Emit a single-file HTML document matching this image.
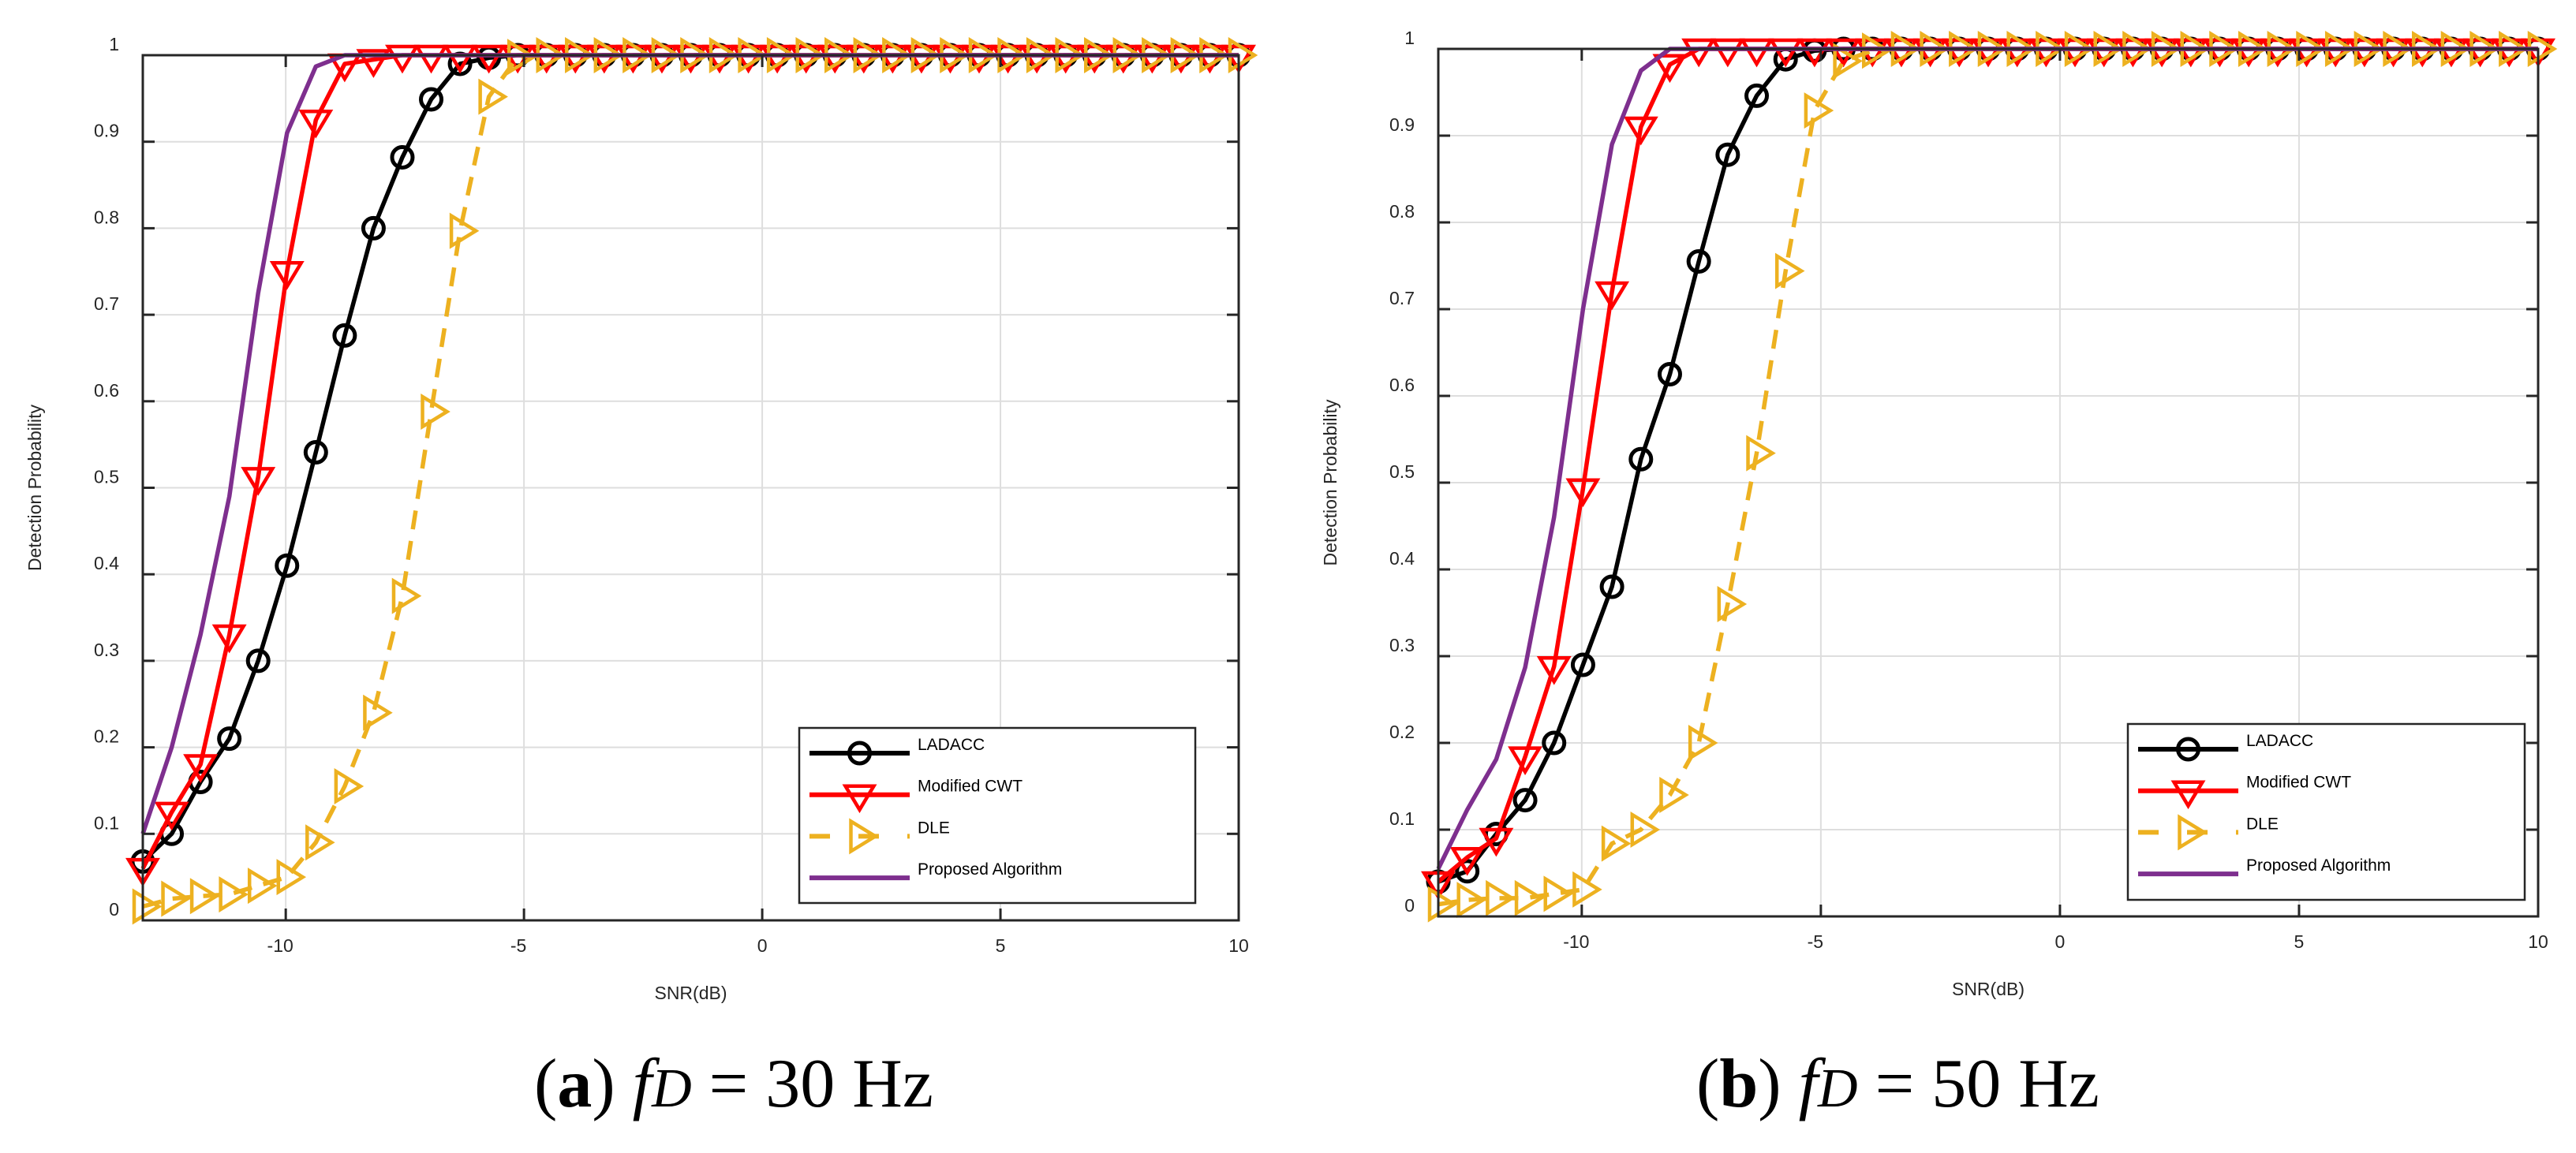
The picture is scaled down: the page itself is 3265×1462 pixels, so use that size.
<!DOCTYPE html>
<html><head><meta charset="utf-8">
<style>
html,body{margin:0;padding:0;background:#fff;}
svg{display:block;}
</style></head>
<body>
<svg id="fig" xmlns="http://www.w3.org/2000/svg" width="3265" height="1462" viewBox="0 0 3265 1462">
<rect x="0" y="0" width="3265" height="1462" fill="#fff"/>
<text x="677" y="1403" font-family="Liberation Serif, serif" font-size="88" fill="#000">(<tspan font-weight="bold">a</tspan>) <tspan font-style="italic">f</tspan><tspan font-style="italic" font-size="70">D</tspan> = 30 Hz</text>
<text x="2150" y="1403" font-family="Liberation Serif, serif" font-size="88" fill="#000">(<tspan font-weight="bold">b</tspan>) <tspan font-style="italic">f</tspan><tspan font-style="italic" font-size="70">D</tspan> = 50 Hz</text>
</svg>
<script>
// SNR axis: 39 points from -13 dB to 10 dB
const snrStart = -13;
const snrEnd = 10;
const snrCount = 39;
const xTicks = [-10, -5, 0, 5, 10];
const xTickLabels = ['-10', '-5', '0', '5', '10'];
const yTicks = [0, 0.1, 0.2, 0.3, 0.4, 0.5, 0.6, 0.7, 0.8, 0.9, 1];
const yTickLabels = ['0', '0.1', '0.2', '0.3', '0.4', '0.5', '0.6', '0.7', '0.8', '0.9', '1'];
const seriesNames = ['LADACC', 'Modified CWT', 'DLE', 'Proposed Algorithm'];

// Panel (a) fD = 30 Hz
const a_ladacc = [0.068,0.10,0.16,0.21,0.30,0.41,0.541,0.676,0.80,0.882,0.949,0.99,0.997,1,1,1,1,1,1,1,1,1,1,1,1,1,1,1,1,1,1,1,1,1,1,1,1,1,1];
const a_cwt = [0.06,0.125,0.18,0.33,0.512,0.75,0.925,0.99,0.995,1,1,1,1,1,1,1,1,1,1,1,1,1,1,1,1,1,1,1,1,1,1,1,1,1,1,1,1,1,1];
const a_dle = [0.016,0.025,0.028,0.03,0.04,0.05,0.09,0.155,0.24,0.375,0.588,0.797,0.952,0.998,1,1,1,1,1,1,1,1,1,1,1,1,1,1,1,1,1,1,1,1,1,1,1,1,1];
const a_prop = [0.1,0.2,0.33,0.49,0.725,0.91,0.987,1,1,1,1,1,1,1,1,1,1,1,1,1,1,1,1,1,1,1,1,1,1,1,1,1,1,1,1,1,1,1,1];

// Panel (b) fD = 50 Hz
const b_ladacc = [0.04,0.052,0.095,0.134,0.20,0.29,0.38,0.527,0.625,0.755,0.878,0.946,0.988,0.998,1,1,1,1,1,1,1,1,1,1,1,1,1,1,1,1,1,1,1,1,1,1,1,1,1];
const b_cwt = [0.04,0.068,0.09,0.184,0.288,0.493,0.72,0.91,0.982,1,1,1,1,1,1,1,1,1,1,1,1,1,1,1,1,1,1,1,1,1,1,1,1,1,1,1,1,1,1];
const b_dle = [0.014,0.019,0.021,0.021,0.026,0.031,0.084,0.1,0.14,0.20,0.36,0.534,0.744,0.929,0.986,0.998,1,1,1,1,1,1,1,1,1,1,1,1,1,1,1,1,1,1,1,1,1,1,1];
const b_prop = [0.055,0.123,0.181,0.287,0.46,0.70,0.89,0.975,1,1,1,1,1,1,1,1,1,1,1,1,1,1,1,1,1,1,1,1,1,1,1,1,1,1,1,1,1,1,1];

const NS = 'http://www.w3.org/2000/svg';
const svg = document.getElementById('fig');
const FONT = 'Liberation Sans, sans-serif';

function mk(tag, attrs, parent) {
  const e = document.createElementNS(NS, tag);
  for (const k in attrs) e.setAttribute(k, attrs[k]);
  parent.appendChild(e);
  return e;
}

function drawPanel(id, geo, series, legendGeo) {
  const g = mk('g', {}, svg);
  
  
  const X = v => geo.left + (v - snrStart) / (snrEnd - snrStart) * (geo.right - geo.left);
  const Y = v => geo.bottom - v * (geo.bottom - geo.top);
  // grid
  xTicks.forEach(t => {
    const l = mk('line', {x1: X(t), x2: X(t), y1: geo.top, y2: geo.bottom, stroke: '#dedede', 'stroke-width': 2}, g);
    
    
  });
  yTicks.forEach(t => {
    const l = mk('line', {x1: geo.left, x2: geo.right, y1: Y(t), y2: Y(t), stroke: '#dedede', 'stroke-width': 2}, g);
    
    
  });
  // series
  const colors = ['#000000', '#ff0000', '#edb120', '#7e2f8e'];
  const markers = ['circle', 'tridown', 'triright', 'none'];
  series.forEach((vals, si) => {
    const sg = mk('g', {}, g);
    
    
    const pts = vals.map((v, i) => {
      const sx = snrStart + i * (snrEnd - snrStart) / (snrCount - 1);
      return [X(sx), Y(v)];
    });
    const line = mk('polyline', {points: pts.map(p => p[0].toFixed(1) + ',' + p[1].toFixed(1)).join(' '), fill: 'none', stroke: colors[si], 'stroke-width': 5.5, 'stroke-linejoin': 'round'}, sg);
    if (si === 2) line.setAttribute('stroke-dasharray', '24,15');
    
    
    pts.forEach(p => {
      const m = drawMarker(sg, markers[si], p[0], p[1], colors[si]);
      if (m) {
        
        
      }
    });
  });
  // axes box
  const box = mk('rect', {x: geo.left, y: geo.top, width: geo.right - geo.left, height: geo.bottom - geo.top, fill: 'none', stroke: '#262626', 'stroke-width': 3}, g);
  
  
  // ticks
  xTicks.forEach((t, i) => {
    mk('line', {x1: X(t), x2: X(t), y1: geo.bottom, y2: geo.bottom - 15, stroke: '#262626', 'stroke-width': 3}, g);
    mk('line', {x1: X(t), x2: X(t), y1: geo.top, y2: geo.top + 15, stroke: '#262626', 'stroke-width': 3}, g);
    const tx = mk('text', {x: X(t) - (t < 0 ? 7 : 0), y: geo.bottom + 40, 'text-anchor': 'middle', 'font-family': FONT, 'font-size': 23, fill: '#262626'}, g);
    tx.textContent = xTickLabels[i];
    
    
  });
  yTicks.forEach((t, i) => {
    mk('line', {x1: geo.left, x2: geo.left + 15, y1: Y(t), y2: Y(t), stroke: '#262626', 'stroke-width': 3}, g);
    mk('line', {x1: geo.right, x2: geo.right - 15, y1: Y(t), y2: Y(t), stroke: '#262626', 'stroke-width': 3}, g);
    const tx = mk('text', {x: geo.left - 30, y: Y(t) - 6, 'text-anchor': 'end', 'font-family': FONT, 'font-size': 23, fill: '#262626'}, g);
    tx.textContent = yTickLabels[i];
    
    
  });
  // axis titles
  const xt = mk('text', {x: (geo.left + geo.right) / 2, y: geo.bottom + 100, 'text-anchor': 'middle', 'font-family': FONT, 'font-size': 23, fill: '#262626'}, g);
  xt.textContent = 'SNR(dB)';
  
  
  const yc = (geo.top + geo.bottom) / 2;
  const yt = mk('text', {x: geo.ylabelX, y: yc, 'text-anchor': 'middle', 'font-family': FONT, 'font-size': 23, fill: '#262626', transform: 'rotate(-90 ' + geo.ylabelX + ' ' + yc + ')'}, g);
  yt.textContent = 'Detection Probability';
  
  
  // legend
  const lg = mk('g', {}, g);
  
  
  const lb = mk('rect', {x: legendGeo.x, y: legendGeo.y, width: legendGeo.w, height: legendGeo.h, fill: '#fff', stroke: '#262626', 'stroke-width': 2.5}, lg);
  
  
  seriesNames.forEach((nm, si) => {
    const eg = mk('g', {}, lg);
    
    
    const ly = legendGeo.y + 32 + si * 52.7;
    const x1 = legendGeo.x + 13, x2 = x1 + 127;
    const ln = mk('line', {x1: x1, x2: x2, y1: ly, y2: ly, stroke: colors[si], 'stroke-width': 6}, eg);
    if (si === 2) ln.setAttribute('stroke-dasharray', '26,36');
    drawMarker(eg, markers[si], (x1 + x2) / 2, ly, colors[si]);
    const tx = mk('text', {x: legendGeo.x + 150, y: ly - 4, 'font-family': FONT, 'font-size': 21, fill: '#000'}, eg);
    tx.textContent = nm;
  });
}

function drawMarker(parent, type, x, y, color) {
  if (type === 'circle') {
    return mk('circle', {cx: x, cy: y, r: 13, fill: 'none', stroke: color, 'stroke-width': 5}, parent);
  }
  if (type === 'tridown') {
    return mk('polygon', {points: (x - 18) + ',' + (y - 11) + ' ' + (x + 18) + ',' + (y - 11) + ' ' + x + ',' + (y + 19), fill: 'none', stroke: color, 'stroke-width': 4.5}, parent);
  }
  if (type === 'triright') {
    return mk('polygon', {points: (x - 11) + ',' + (y - 19) + ' ' + (x - 11) + ',' + (y + 19) + ' ' + (x + 20) + ',' + y, fill: 'none', stroke: color, 'stroke-width': 4.5}, parent);
  }
  return null;
}

drawPanel('panel-a', {left: 181, right: 1570, top: 70, bottom: 1167, ylabelX: 52},
  [a_ladacc, a_cwt, a_dle, a_prop], {x: 1013, y: 923, w: 502, h: 222});
drawPanel('panel-b', {left: 1823, right: 3217, top: 62, bottom: 1162, ylabelX: 1694},
  [b_ladacc, b_cwt, b_dle, b_prop], {x: 2697, y: 918, w: 503, h: 223});
</script>
</body></html>
